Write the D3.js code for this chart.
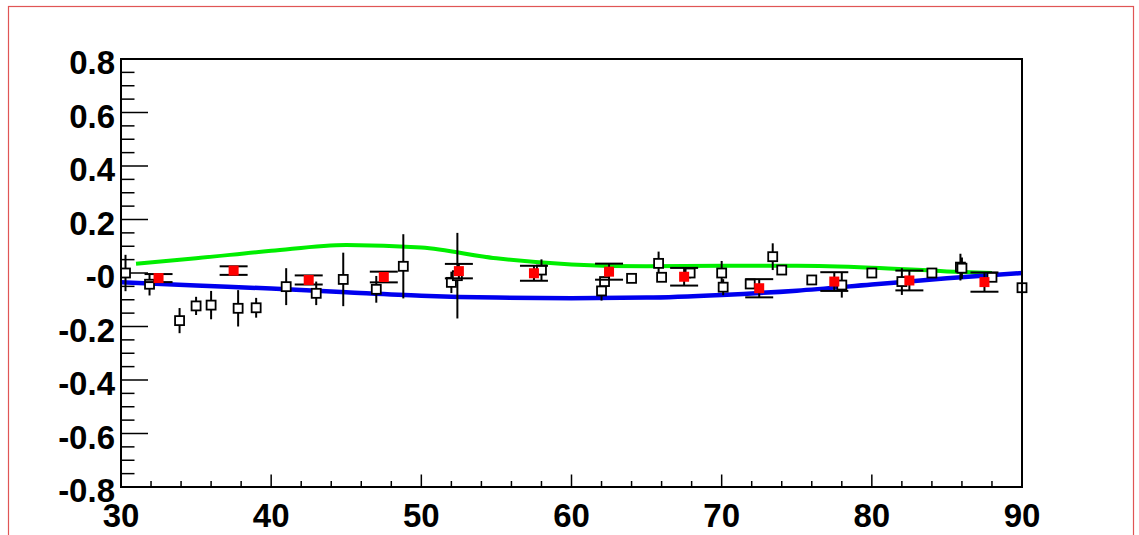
<!DOCTYPE html>
<html>
<head>
<meta charset="utf-8">
<script src="https://cdn.jsdelivr.net/npm/d3@7"></script>
<style>
  body { margin: 0; background: #fff; }
  svg { display: block; }
</style>
</head>
<body>
<svg id="chart" width="1139" height="535"></svg>
<script>
// open black squares: x, y, vertical error
const openX = [30.3, 31.9, 33.9, 35.0, 36.0, 37.8, 39.0, 41.0, 43.0, 44.8, 47.0, 48.8, 52.0, 52.4, 58.0,
  62.0, 62.2, 64.0, 65.8, 66.0, 67.9, 70.0, 70.1, 71.9, 73.4, 74.0, 76.0, 78.0, 80.0, 82.0, 84.0, 85.9, 86.0, 88.0, 90.0];
const openY = [0.0, -0.042, -0.178, -0.123, -0.12, -0.132, -0.13, -0.051, -0.076, -0.024, -0.061, 0.025, -0.035, -0.01, 0.011,
  -0.067, -0.032, -0.02, 0.036, -0.016, 0.0, 0.0, -0.053, -0.041, 0.061, 0.011, -0.026, -0.045, 0.0, -0.032, 0.0, 0.022, 0.018, -0.016, -0.055];
const openErr = [0.068, 0.042, 0.047, 0.034, 0.053, 0.068, 0.037, 0.069, 0.044, 0.10, 0.05, 0.12, 0.04, 0.16, 0.04,
  0.036, 0.02, 0.015, 0.044, 0.015, 0.02, 0.045, 0.03, 0.015, 0.05, 0.015, 0.015, 0.047, 0.015, 0.05, 0.015, 0.05, 0.04, 0.015, 0.015];

// red filled squares
const redX = [32.5, 37.5, 42.5, 47.5, 52.5, 57.5, 62.5, 67.5, 72.5, 77.5, 82.5, 87.5];
const redY = [-0.019, 0.009, -0.026, -0.015, 0.007, -0.001, 0.005, -0.014, -0.057, -0.032, -0.028, -0.034];
const redErr = [0.015, 0.016, 0.017, 0.02, 0.027, 0.028, 0.03, 0.033, 0.034, 0.035, 0.037, 0.036];

// curves
const greenX = [31, 35, 40, 45, 50, 55, 60, 65, 70, 75, 80, 85, 88];
const greenY = [0.035, 0.055, 0.083, 0.105, 0.095, 0.055, 0.032, 0.025, 0.027, 0.027, 0.02, 0.006, 0.0];
const blueX = [30, 35, 40, 45, 50, 55, 60, 65, 70, 75, 80, 85, 90];
const blueY = [-0.035, -0.047, -0.058, -0.072, -0.085, -0.092, -0.094, -0.092, -0.082, -0.066, -0.043, -0.02, 0.0];

// axes
const xTicks = [30, 40, 50, 60, 70, 80, 90];
const yTicks = [0.8, 0.6, 0.4, 0.2, 0, -0.2, -0.4, -0.6, -0.8];
const yTickLabels = ['0.8', '0.6', '0.4', '0.2', '-0', '-0.2', '-0.4', '-0.6', '-0.8'];

const svg = d3.select('#chart');
const frame = { left: 121, top: 59, right: 1022, bottom: 487 };

const x = d3.scaleLinear().domain([30, 90]).range([frame.left, frame.right]);
const y = d3.scaleLinear().domain([-0.8, 0.8]).range([frame.bottom, frame.top]);

// canvas border
svg.append('rect')
  .attr('x', 8.5).attr('y', 6.5)
  .attr('width', 1125).attr('height', 600)
  .attr('fill', 'none')
  .attr('stroke', '#e05555')
  .attr('stroke-width', 1.2);

// minor / major ticks on the left axis
const yMinor = d3.range(-0.8, 0.8001, 0.05).map(v => +v.toFixed(2));
svg.append('g').selectAll('line')
  .data(yMinor)
  .join('line')
  .attr('x1', frame.left)
  .attr('x2', d => frame.left + (Math.abs(Math.round(d * 100) % 20) === 0 ? 27 : 13.5))
  .attr('y1', d => y(d)).attr('y2', d => y(d))
  .attr('stroke', '#000').attr('stroke-width', 1.5);

// ticks on the bottom axis
const xMinor = d3.range(30, 90.01, 2);
svg.append('g').selectAll('line')
  .data(xMinor)
  .join('line')
  .attr('x1', d => x(d)).attr('x2', d => x(d))
  .attr('y1', frame.bottom)
  .attr('y2', d => frame.bottom - (d % 10 === 0 ? 12.5 : 6))
  .attr('stroke', '#000').attr('stroke-width', 1.5);

// labels
const labelFont = '"Liberation Sans", Arial, Helvetica, sans-serif';
svg.append('g').selectAll('text')
  .data(yTicks)
  .join('text')
  .attr('x', 115)
  .attr('y', d => y(d) + 15)
  .attr('text-anchor', 'end')
  .attr('font-family', labelFont)
  .attr('font-weight', 'bold')
  .attr('font-size', 33)
  .text((d, i) => yTickLabels[i]);

svg.append('g').selectAll('text')
  .data(xTicks)
  .join('text')
  .attr('x', d => x(d))
  .attr('y', 527)
  .attr('text-anchor', 'middle')
  .attr('font-family', labelFont)
  .attr('font-weight', 'bold')
  .attr('font-size', 33)
  .text(d => d);

// curves
const line = d3.line().x(d => x(d[0])).y(d => y(d[1])).curve(d3.curveMonotoneX);
svg.append('path')
  .attr('d', line(greenX.map((v, i) => [v, greenY[i]])))
  .attr('fill', 'none').attr('stroke', '#00ee00').attr('stroke-width', 4);
svg.append('path')
  .attr('d', line(blueX.map((v, i) => [v, blueY[i]])))
  .attr('fill', 'none').attr('stroke', '#0000ee').attr('stroke-width', 4.5);

// open squares with error bars
const openData = openX.map((v, i) => ({ x: v, y: openY[i], e: openErr[i] }));
const og = svg.append('g');
og.selectAll('line')
  .data(openData)
  .join('line')
  .attr('x1', d => x(d.x)).attr('x2', d => x(d.x))
  .attr('y1', d => y(d.y + d.e)).attr('y2', d => y(d.y - d.e))
  .attr('stroke', '#000').attr('stroke-width', 2);
og.selectAll('rect')
  .data(openData)
  .join('rect')
  .attr('x', d => x(d.x) - 4.5).attr('y', d => y(d.y) - 4.5)
  .attr('width', 9).attr('height', 9)
  .attr('fill', '#fff')
  .attr('stroke', '#000').attr('stroke-width', 1.8);

// red points with capped error bars
const redData = redX.map((v, i) => ({ x: v, y: redY[i], e: redErr[i] }));
const rg = svg.append('g');
rg.selectAll('line.v')
  .data(redData)
  .join('line')
  .attr('class', 'v')
  .attr('x1', d => x(d.x)).attr('x2', d => x(d.x))
  .attr('y1', d => y(d.y + d.e)).attr('y2', d => y(d.y - d.e))
  .attr('stroke', '#000').attr('stroke-width', 2);
['top', 'bot'].forEach(side => {
  rg.selectAll('line.' + side)
    .data(redData)
    .join('line')
    .attr('class', side)
    .attr('x1', d => x(d.x) - 14).attr('x2', d => x(d.x) + 14)
    .attr('y1', d => y(side === 'top' ? d.y + d.e : d.y - d.e))
    .attr('y2', d => y(side === 'top' ? d.y + d.e : d.y - d.e))
    .attr('stroke', '#000').attr('stroke-width', 2);
});
rg.selectAll('rect')
  .data(redData)
  .join('rect')
  .attr('x', d => x(d.x) - 5).attr('y', d => y(d.y) - 5)
  .attr('width', 10).attr('height', 10)
  .attr('fill', '#ff0000');

// frame
svg.append('rect')
  .attr('x', frame.left).attr('y', frame.top)
  .attr('width', frame.right - frame.left)
  .attr('height', frame.bottom - frame.top)
  .attr('fill', 'none')
  .attr('stroke', '#000').attr('stroke-width', 2);
</script>
</body>
</html>
